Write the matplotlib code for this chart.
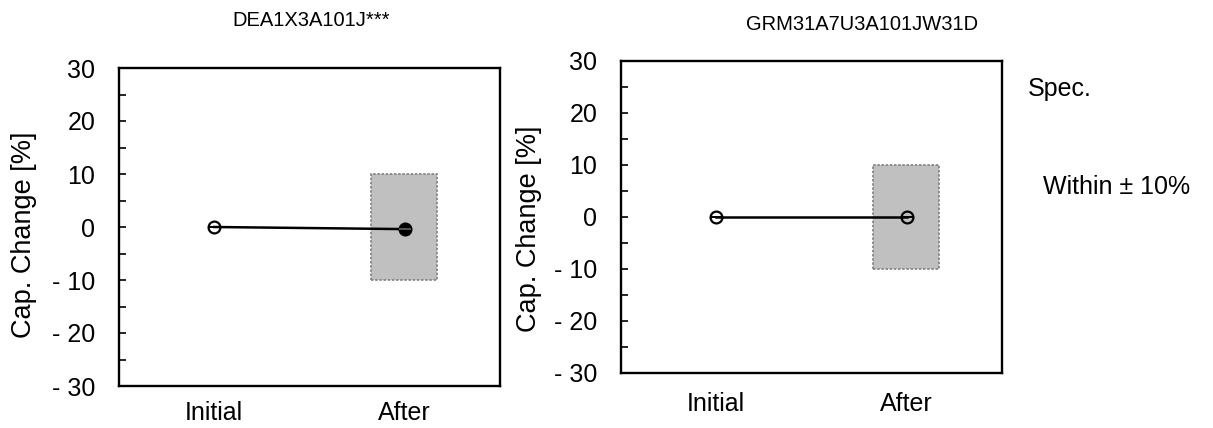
import matplotlib
matplotlib.use("Agg")
import matplotlib.pyplot as plt
from matplotlib.patches import Rectangle
from matplotlib.ticker import MultipleLocator, FuncFormatter

plt.rcParams['font.family'] = ['Liberation Sans', 'DejaVu Sans']

# ---- data ----
categories = ["Initial", "After"]
titles = ["DEA1X3A101J***", "GRM31A7U3A101JW31D"]
left_values = [0.0, -0.4]
right_values = [0.0, 0.0]
spec_low = -10
spec_high = 10
y_limits = (-30, 30)
y_ticks = [-30, -20, -10, 0, 10, 20, 30]
ylabel = "Cap. Change [%]"
spec_title = "Spec."
spec_text = "Within \u00b1 10%"

W, H = 1213, 428
fig = plt.figure(figsize=(W / 100, H / 100), dpi=100)


def ax_rect(x0, x1, ytop, ybot):
    return [x0 / W, 1 - ybot / H, (x1 - x0) / W, (ybot - ytop) / H]


def fmt(v, pos):
    v = int(round(v))
    return f"- {abs(v)}" if v < 0 else f"{v}"


def draw(ax, values, after_fill, xpad):
    xs = list(range(1, len(categories) + 1))
    ax.add_patch(Rectangle((1.825, spec_low), 0.345, spec_high - spec_low,
                           facecolor="#c0c0c0", edgecolor="#808080",
                           linestyle=(0, (1.5, 1)), linewidth=1.2, zorder=1))
    ax.plot(xs, values, color="black", linewidth=1.8, zorder=2)
    faces = ["none", "black" if after_fill else "none"]
    for x, v, fc in zip(xs, values, faces):
        ax.plot([x], [v], marker="o", markersize=8.5, markerfacecolor=fc,
                markeredgecolor="black", markeredgewidth=1.6, linestyle="none",
                zorder=3)
        ax.plot([x], [v], marker="_", markersize=8.5,
                color="#555555" if fc == "black" else "black",
                markeredgewidth=1.4, linestyle="none", zorder=4)
    ax.set_xlim(0.5, 2.5)
    ax.set_ylim(*y_limits)
    ax.set_xticks(xs)
    ax.set_xticklabels(categories, fontsize=18)
    ax.set_yticks(y_ticks)
    ax.yaxis.set_major_formatter(FuncFormatter(fmt))
    ax.yaxis.set_minor_locator(MultipleLocator(5))
    ax.tick_params(axis="y", which="both", direction="in", length=5,
                   width=1.2, labelsize=18, pad=17)
    ax.tick_params(axis="x", which="both", length=0, pad=xpad)
    for s in ax.spines.values():
        s.set_linewidth(1.7)
    ax.set_ylabel(ylabel, fontsize=19.5)


ax1 = fig.add_axes(ax_rect(119, 500, 68, 386))
draw(ax1, left_values, True, 10.5)
ax1.yaxis.set_label_coords(-0.216, 0.476)

ax2 = fig.add_axes(ax_rect(621, 1002, 61, 373))
draw(ax2, right_values, False, 14)
ax2.yaxis.set_label_coords(-0.208, 0.463)

fig.text(311 / W, 1 - 21 / H, titles[0], fontsize=14.5, ha="center", va="center")
fig.text(862 / W, 1 - 25 / H, titles[1], fontsize=14.5, ha="center", va="center")
fig.text(1028 / W, 1 - 89 / H, spec_title, fontsize=18, ha="left", va="center")
fig.text(1043 / W, 1 - 187 / H, spec_text, fontsize=18, ha="left", va="center")

fig.savefig("out.png", dpi=100)
